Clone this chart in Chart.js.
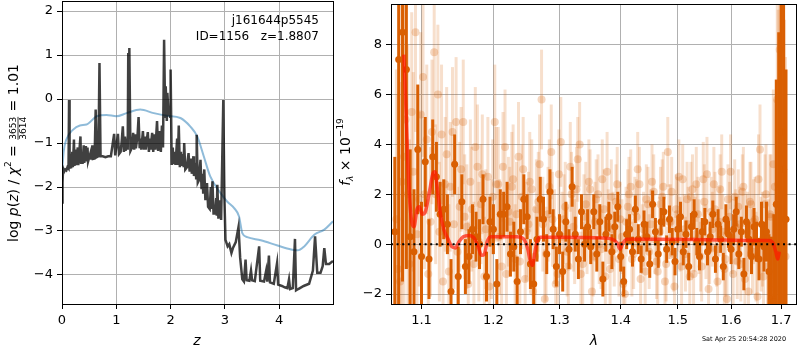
<!DOCTYPE html>
<html>
<head>
<meta charset="utf-8">
<script src="https://cdn.jsdelivr.net/npm/chart.js@4.4.0/dist/chart.umd.min.js"></script>
<style>
  html, body { margin: 0; padding: 0; background: #fff; }
  #wrap { position: relative; width: 800px; height: 350px; overflow: hidden; }
  #pz { position: absolute; left: 0; top: 0; }
  #sp { position: absolute; left: 335px; top: 0; }
</style>
</head>
<body>
<div id="wrap">
  <canvas id="pz" width="340" height="350" style="width:340px;height:350px"></canvas>
  <canvas id="sp" width="465" height="350" style="width:465px;height:350px"></canvas>
</div>
<script>
// ---- left panel: log p(z) ----
const zTicks = [0, 1, 2, 3, 4];
const logpTicks = [-4, -3, -2, -1, 0, 1, 2];

const zGrid = [
  0.00,0.01,0.02,0.04,0.06,0.08,0.10,0.12,0.13,0.14,
  0.17,0.19,0.20,0.22,0.23,0.25,0.26,0.29,0.30,0.34,
  0.35,0.38,0.40,0.41,0.44,0.45,0.47,0.48,0.53,0.54,
  0.56,0.57,0.60,0.62,0.64,0.67,0.69,0.71,0.75,0.80,
  0.85,0.90,0.96,0.98,1.03,1.05,1.08,1.10,1.12,1.14,
  1.16,1.17,1.20,1.21,1.22,1.23,1.24,1.26,1.29,1.31,
  1.33,1.35,1.36,1.39,1.41,1.43,1.45,1.46,1.49,1.51,
  1.53,1.54,1.58,1.60,1.62,1.63,1.66,1.68,1.70,1.72,
  1.75,1.77,1.80,1.82,1.84,1.86,1.88,1.90,1.91,1.93,
  1.94,1.96,1.99,2.00,2.02,2.04,2.05,2.08,2.09,2.12,
  2.13,2.15,2.17,2.19,2.20,2.23,2.24,2.25,2.27,2.30,
  2.33,2.35,2.38,2.39,2.42,2.43,2.46,2.47,2.48,2.50,
  2.52,2.55,2.57,2.59,2.60,2.62,2.64,2.67,2.69,2.72,
  2.74,2.75,2.77,2.79,2.82,2.84,2.85,2.86,2.88,2.91,
  2.93,2.97,2.99,3.01,3.05,3.08,3.12,3.15,3.20,3.25,
  3.28,3.32,3.35,3.38,3.40,3.45,3.48,3.50,3.55,3.63,
  3.65,3.72,3.76,3.78,3.81,3.83,3.90,3.96,3.98,4.05,
  4.10,4.15,4.18,4.20,4.25,4.29,4.31,4.35,4.45,4.55,
  4.62,4.66,4.70,4.76,4.80,4.83,4.86,4.92,4.99
];
const logpZ = [
  -2.35,-1.9,-1.58,-1.65,-1.60,-1.62,-1.55,-1.58,-0.02,-1.56,
  -1.55,-1.2,-1.55,-0.92,-1.52,-1.15,-1.5,-1.1,-1.5,-0.85,
  -1.45,-1.45,-1.05,-1.45,-1.07,-1.42,-1.1,-1.42,-1.2,-1.38,
  -1.05,-1.36,-1.35,-0.24,-1.32,-1.3,0.82,-1.3,-1.3,-1.32,
  -1.3,-1.3,-0.79,-1.28,-0.79,-1.25,-1.2,-0.95,-0.62,-1.2,
  -0.85,-1.18,-0.9,-1.15,1.05,-0.8,1.16,-1.18,-1.1,-0.77,
  -1.15,-0.8,-1.12,-0.85,-0.41,-1.12,-0.9,-1.15,-0.73,-1.15,
  -0.85,-1.15,-0.75,-1.2,-0.9,-1.15,-0.77,-1.2,-0.8,-1.15,
  -0.5,-1.18,-0.73,-1.2,-0.6,-1.1,1.35,-0.4,0.29,-0.5,
  0.14,-0.3,-0.4,0.67,-1.5,-1.1,-1.48,-1.2,-1.5,-0.9,
  -1.5,-0.6,-1.55,-1.2,-1.52,-1.25,-1.55,-1.0,-1.6,-1.55,
  -1.23,-1.65,-1.35,-1.7,-1.3,-1.75,-1.45,-1.8,-0.81,-1.9,
  -1.85,-1.38,-2.05,-1.7,-2.15,-1.6,-2.3,-1.91,-2.45,-2.5,
  -2.0,-2.5,-1.87,-2.6,-2.6,-2.25,-2.65,-1.95,-2.72,-2.3,
  -2.75,-0.02,-2.2,-3.2,-3.35,-3.3,-3.5,-3.38,-3.25,-2.91,
  -3.6,-4.1,-4.15,-3.65,-4.12,-4.13,-3.9,-4.12,-4.14,-3.35,
  -4.13,-4.15,-3.9,-4.15,-3.56,-4.17,-4.2,-3.73,-4.22,-4.25,
  -4.28,-4.3,-4.1,-4.32,-4.3,-3.18,-4.35,-4.32,-4.25,-4.2,
  -3.9,-3.12,-3.95,-3.95,-3.8,-3.39,-3.75,-3.75,-3.68
];

// smooth template-fit curve (blue)
const zTempl = [0.0,0.03,0.08,0.2,0.33,0.45,0.64,0.82,1.0,1.19,1.44,1.69,1.93,2.18,2.36,2.49,
  2.61,2.73,2.92,3.04,3.17,3.26,3.32,3.41,3.66,3.97,4.22,4.34,4.46,4.65,4.83,4.99];
const logpTempl = [-1.7,-1.2,-0.92,-0.7,-0.6,-0.58,-0.39,-0.36,-0.39,-0.32,-0.24,-0.32,-0.38,-0.43,-0.62,-0.85,
  -1.3,-1.76,-2.14,-2.33,-2.48,-2.67,-3.05,-3.14,-3.21,-3.33,-3.42,-3.44,-3.35,-3.08,-2.97,-2.78];

// ---- right panel: spectrum ----
const waveTicks = [1.1, 1.2, 1.3, 1.4, 1.5, 1.6, 1.7];
const fluxTicks = [-2, 0, 2, 4, 6, 8];

// beam A (dark orange)
const waveA = [
  1.065,1.070,1.075,1.080,1.085,1.090,1.095,1.100,1.105,1.110,
  1.115,1.120,1.125,1.130,1.135,1.140,1.145,1.150,1.155,1.160,
  1.165,1.170,1.175,1.180,1.185,1.190,1.195,1.200,1.205,1.210,
  1.215,1.220,1.225,1.230,1.235,1.240,1.245,1.250,1.255,1.260,
  1.265,1.270,1.275,1.280,1.285,1.290,1.295,1.300,1.305,1.310,
  1.315,1.320,1.325,1.330,1.335,1.340,1.345,1.350,1.355,1.360,
  1.365,1.370,1.375,1.380,1.385,1.390,1.395,1.400,1.405,1.410,
  1.415,1.420,1.425,1.430,1.435,1.440,1.445,1.450,1.455,1.460,
  1.465,1.470,1.475,1.480,1.485,1.490,1.495,1.500,1.505,1.510,
  1.515,1.520,1.525,1.530,1.535,1.540,1.545,1.550,1.555,1.560,
  1.565,1.570,1.575,1.580,1.585,1.590,1.595,1.600,1.605,1.610,
  1.615,1.620,1.625,1.630,1.635,1.640,1.645,1.650,1.655,1.660,
  1.665,1.670,1.675,1.680,1.685,1.690,1.695,1.700,1.705,1.710
];
const fluxA = [
  0.5,7.4,8.5,7.0,0.3,-0.3,3.8,-0.5,3.3,-0.6,
  3.5,2.7,1.2,1.4,0.8,-1.9,3.2,-1.3,1.7,-0.9,
  -0.5,0.6,0.3,0.0,1.8,-1.3,0.9,0.6,-1.6,1.2,
  1.2,1.5,-0.4,-0.1,-1.5,0.5,1.8,1.1,-0.8,-1.6,
  0.2,1.8,1.0,-0.4,2.1,0.6,-0.9,0.4,-1.1,0.9,
  -0.2,2.3,0.4,-0.6,1.3,0.0,0.7,-0.1,1.3,-0.4,
  0.9,-1.4,0.4,1.1,-0.3,0.7,1.5,-0.5,-1.5,0.4,
  0.6,-0.3,1.4,0.2,-0.6,0.8,0.3,-0.8,1.6,0.5,
  -0.4,0.9,1.3,-0.2,1.0,0.1,-0.7,0.6,1.1,-0.3,
  0.4,-0.9,0.7,1.2,0.1,-0.5,0.5,0.9,-0.3,0.3,
  1.2,-0.6,0.8,0.2,-0.9,1.0,0.4,-0.2,0.6,1.3,
  -0.4,0.5,-1.2,0.9,0.2,-0.5,0.7,0.1,-0.6,0.8,
  -0.1,0.5,-1.1,-2.2,-2.3,1.6,-0.5,4.5,3.0,1.0
];
const errA = [
  3,12,10,8,3.5,2.5,2.6,2.2,1.8,1.6,
  1.5,1.4,1.3,1.2,1.2,1.3,1.2,1.2,1.1,1.1,
  1.1,1.0,1.0,1.0,1.0,1.0,1.0,1.0,1.0,1.0,
  0.9,1.0,0.9,1.0,1.0,0.9,1.0,0.9,1.0,1.0,
  0.9,0.9,0.9,0.8,0.9,0.8,0.8,0.8,0.8,0.8,
  0.8,0.8,0.7,0.8,0.7,0.7,0.7,0.7,0.7,0.7,
  0.7,0.7,0.7,0.6,0.7,0.6,0.6,0.6,0.6,0.6,
  0.6,0.6,0.55,0.6,0.55,0.55,0.6,0.55,0.55,0.55,
  0.55,0.55,0.6,0.55,0.55,0.55,0.55,0.55,0.6,0.55,
  0.55,0.55,0.55,0.6,0.55,0.55,0.55,0.55,0.55,0.6,
  0.55,0.55,0.6,0.55,0.55,0.6,0.55,0.6,0.6,0.6,
  0.6,0.6,0.65,0.65,0.7,0.7,0.75,0.8,0.85,0.9,
  1.0,1.2,1.5,2.5,3.5,5,9,8,12,6
];

// beam B (faint orange)
const waveB = [
  1.067,1.072,1.077,1.082,1.087,1.092,1.097,1.102,1.107,1.112,
  1.117,1.122,1.127,1.132,1.137,1.142,1.147,1.152,1.157,1.162,
  1.167,1.172,1.177,1.182,1.187,1.192,1.197,1.202,1.207,1.212,
  1.217,1.222,1.227,1.232,1.237,1.242,1.247,1.252,1.257,1.262,
  1.267,1.272,1.277,1.282,1.287,1.292,1.297,1.302,1.307,1.312,
  1.317,1.322,1.327,1.332,1.337,1.342,1.347,1.352,1.357,1.362,
  1.367,1.372,1.377,1.382,1.387,1.392,1.397,1.402,1.407,1.412,
  1.417,1.422,1.427,1.432,1.437,1.442,1.447,1.452,1.457,1.462,
  1.467,1.472,1.477,1.482,1.487,1.492,1.497,1.502,1.507,1.512,
  1.517,1.522,1.527,1.532,1.537,1.542,1.547,1.552,1.557,1.562,
  1.567,1.572,1.577,1.582,1.587,1.592,1.597,1.602,1.607,1.612,
  1.617,1.622,1.627,1.632,1.637,1.642,1.647,1.652,1.657,1.662,
  1.667,1.672,1.677,1.682,1.687,1.692,1.697,1.702,1.707
];
const fluxB = [
  1.0,-1.5,3.5,2.0,5.3,8.5,1.8,6.7,4.2,0.9,
  7.7,6.0,4.4,2.4,-1.1,4.5,4.9,1.5,4.9,0.7,
  2.5,-0.8,3.1,1.6,-1.3,2.7,0.2,4.9,2.4,-0.9,
  3.9,1.3,2.3,-0.6,3.5,1.9,-1.4,0.8,2.2,-0.5,
  1.7,5.8,-2.2,1.2,3.7,0.3,-1.2,4.1,1.0,-0.3,
  3.1,0.7,2.2,4.0,-0.8,1.6,2.5,-1.9,0.9,2.0,
  -0.2,1.4,2.9,-1.0,0.6,1.7,-0.6,0.3,-2.0,1.5,
  2.3,-0.4,1.1,2.4,0.2,-1.1,1.6,0.8,2.1,-0.7,
  0.5,1.9,-1.5,3.7,0.9,-0.4,1.4,2.7,-0.9,0.6,
  1.8,-1.3,2.2,0.4,1.2,-0.5,2.6,0.1,-1.8,1.3,
  2.4,-0.2,0.9,2.9,-1.0,-2.2,1.1,0.3,1.9,-0.7,
  0.8,2.1,-1.4,0.5,1.7,-0.3,1.0,-2.1,3.8,0.2,
  1.6,-0.9,1.2,-1.6,2.3,5.8,7.8,3.6,1.0
];
const errB = [
  6,8,9,6,4,4,3.5,3.2,3,3,
  3,2.8,2.8,2.7,2.7,2.6,2.6,2.6,2.5,2.5,
  2.5,2.5,2.5,2.4,2.4,2.4,2.4,2.3,2.3,2.3,
  2.3,2.2,2.2,2.2,2.2,2.1,2.1,2.1,2.0,2.0,
  2.0,2.0,2.0,1.9,1.9,1.9,1.9,1.8,1.8,1.8,
  1.8,1.8,1.7,1.7,1.7,1.7,1.7,1.6,1.6,1.6,
  1.6,1.6,1.6,1.5,1.5,1.5,1.5,1.5,1.5,1.5,
  1.5,1.4,1.5,1.5,1.4,1.5,1.5,1.4,1.5,1.5,
  1.4,1.5,1.5,1.4,1.5,1.5,1.4,1.5,1.5,1.4,
  1.5,1.5,1.4,1.5,1.5,1.4,1.5,1.5,1.5,1.4,
  1.5,1.5,1.4,1.5,1.5,1.5,1.4,1.5,1.5,1.5,
  1.5,1.5,1.6,1.6,1.6,1.7,1.7,1.8,1.8,1.9,
  2.0,2.2,2.4,2.8,3.5,6,9,10,8
];

// beam C (faint orange, second orient)
const waveC = [
  1.069,1.074,1.079,1.084,1.089,1.094,1.099,1.104,1.109,1.114,
  1.119,1.124,1.129,1.134,1.139,1.144,1.149,1.154,1.159,1.164,
  1.169,1.174,1.179,1.184,1.189,1.194,1.199,1.204,1.209,1.214,
  1.219,1.224,1.229,1.234,1.239,1.244,1.249,1.254,1.259,1.264,
  1.269,1.274,1.279,1.284,1.289,1.294,1.299,1.304,1.309,1.314,
  1.319,1.324,1.329,1.334,1.339,1.344,1.349,1.354,1.359,1.364,
  1.369,1.374,1.379,1.384,1.389,1.394,1.399,1.404,1.409,1.414,
  1.419,1.424,1.429,1.434,1.439,1.444,1.449,1.454,1.459,1.464,
  1.469,1.474,1.479,1.484,1.489,1.494,1.499,1.504,1.509,1.514,
  1.519,1.524,1.529,1.534,1.539,1.544,1.549,1.554,1.559,1.564,
  1.569,1.574,1.579,1.584,1.589,1.594,1.599,1.604,1.609,1.614,
  1.619,1.624,1.629,1.634,1.639,1.644,1.649,1.654,1.659,1.664,
  1.669,1.674,1.679,1.684,1.689,1.694,1.699,1.704,1.709
];
const fluxC = [
  -1.0,2.5,5.0,-0.8,2.9,0.4,5.2,2.0,-1.2,4.5,
  2.0,0.5,-1.5,3.6,2.3,0.8,-0.3,3.0,1.1,-1.6,
  1.4,3.9,0.1,2.8,0.6,-1.7,1.9,2.4,0.3,3.1,
  -1.2,0.9,2.6,1.2,-0.7,3.0,0.5,2.5,-1.9,1.4,
  3.2,0.8,-0.4,2.3,1.0,-1.6,2.8,0.3,1.5,-0.9,
  2.0,0.1,3.4,-1.2,1.1,0.4,2.2,-0.5,1.8,0.0,
  2.6,-1.3,0.7,1.9,-0.2,2.4,1.0,-1.6,0.9,2.0,
  -0.6,1.3,3.0,-1.4,0.6,1.8,-0.3,2.5,0.2,-1.1,
  1.6,2.3,-0.8,0.9,2.1,-1.7,1.2,0.4,2.6,-0.4,
  0.8,1.9,-1.2,2.4,0.3,-0.9,1.7,2.8,-0.2,0.6,
  1.4,-1.5,2.2,0.5,-0.6,1.8,2.9,-1.2,0.7,1.5,
  -0.8,2.3,0.4,-1.9,1.6,0.9,-0.5,2.6,0.0,-1.3,
  2.0,-0.4,1.1,3.2,-1.8,2.4,6.5,2.0,-0.5
];
const errC = [
  7,9,6,5,4,3.6,3.3,3,3,2.9,
  2.8,2.8,2.7,2.7,2.6,2.6,2.6,2.5,2.5,2.5,
  2.5,2.4,2.4,2.4,2.4,2.3,2.3,2.3,2.3,2.2,
  2.2,2.2,2.2,2.1,2.1,2.1,2.0,2.0,2.0,2.0,
  2.0,1.9,1.9,1.9,1.9,1.8,1.8,1.8,1.8,1.8,
  1.7,1.7,1.7,1.7,1.7,1.6,1.6,1.6,1.6,1.6,
  1.6,1.5,1.5,1.5,1.5,1.5,1.5,1.5,1.4,1.5,
  1.5,1.4,1.5,1.5,1.5,1.4,1.5,1.5,1.4,1.5,
  1.5,1.4,1.5,1.5,1.4,1.5,1.5,1.5,1.4,1.5,
  1.5,1.4,1.5,1.5,1.5,1.4,1.5,1.5,1.4,1.5,
  1.5,1.5,1.4,1.5,1.5,1.4,1.5,1.5,1.5,1.5,
  1.5,1.6,1.6,1.6,1.7,1.7,1.8,1.8,1.9,1.9,
  2.0,2.2,2.5,3,4,7,9,10,8
];

// best-fit model (red)
const waveModel = [1.0767,1.080,1.083,1.087,1.090,1.094,1.097,1.101,1.105,1.110,
  1.115,1.118,1.121,1.125,1.130,1.136,1.141,1.146,1.151,1.157,
  1.165,1.172,1.178,1.183,1.187,1.191,1.196,1.210,1.235,1.245,
  1.251,1.255,1.258,1.262,1.266,1.270,1.300,1.370,1.385,1.394,
  1.399,1.404,1.410,1.450,1.550,1.650,1.675,1.683,1.689,1.693,1.696];
const fluxModel = [7.6,5.0,2.5,0.9,0.7,1.4,1.5,1.2,1.3,2.0,
  2.8,2.9,2.3,1.3,0.6,0.2,-0.1,-0.15,0.1,0.3,
  0.35,0.25,-0.1,-0.45,-0.4,0.1,0.3,0.3,0.3,0.2,
  -0.2,-0.7,-0.85,-0.3,0.2,0.28,0.28,0.25,0.2,0.05,
  -0.2,0.05,0.2,0.2,0.18,0.15,0.15,0.05,-0.3,-0.6,-0.3];

const waveMin = 1.0601, waveMax = 1.7308;

Chart.defaults.font.family = '"DejaVu Sans", sans-serif';
Chart.defaults.font.size = 13;
Chart.defaults.color = '#000';

const FONT = '"DejaVu Sans", sans-serif';
const minus = v => String(v).replace('-', '\u2212');
const pts = (xs, ys) => xs.map((x, i) => ({ x: x, y: ys[i] }));

// error bars drawn under each dataset's markers
const errorBars = {
  id: 'errorBars',
  beforeDatasetDraw(chart, args) {
    const ds = chart.data.datasets[args.index];
    if (!ds.errors) return;
    const { ctx, chartArea: a, scales: { x, y } } = chart;
    ctx.save();
    ctx.beginPath();
    ctx.rect(a.left, a.top, a.right - a.left, a.bottom - a.top);
    ctx.clip();
    ctx.strokeStyle = ds.errorColor;
    ctx.lineWidth = 3;
    ds.data.forEach((p, i) => {
      const px = x.getPixelForValue(p.x);
      ctx.beginPath();
      ctx.moveTo(px, y.getPixelForValue(p.y - ds.errors[i]));
      ctx.lineTo(px, y.getPixelForValue(p.y + ds.errors[i]));
      ctx.stroke();
    });
    ctx.restore();
  }
};

// black box round the axes
const frame = {
  id: 'frame',
  afterDatasetsDraw(chart) {
    const { ctx, chartArea: a } = chart;
    ctx.save();
    ctx.strokeStyle = '#000';
    ctx.lineWidth = 1;
    ctx.strokeRect(Math.round(a.left) + 0.5, Math.round(a.top) + 0.5,
      Math.round(a.right - a.left), Math.round(a.bottom - a.top));
    ctx.restore();
  }
};

// draw a list of text runs along a baseline, centred on 0
function drawRuns(ctx, runs) {
  let w = 0;
  runs.forEach(r => {
    ctx.font = r.f;
    r.w = r.frac
      ? Math.max(ctx.measureText(r.frac[0]).width, ctx.measureText(r.frac[1]).width) + 2
      : ctx.measureText(r.t).width;
    w += r.w;
  });
  let x = -w / 2;
  runs.forEach(r => {
    ctx.font = r.f;
    if (r.frac) {
      ctx.textAlign = 'center';
      ctx.fillText(r.frac[0], x + r.w / 2, -2);
      ctx.fillText(r.frac[1], x + r.w / 2, 8);
      ctx.fillRect(x + 1, -0.4, r.w - 2, 0.8);
      ctx.textAlign = 'left';
    } else {
      ctx.fillText(r.t, x, r.dy || 0);
    }
    x += r.w;
  });
}

function gridOpts() {
  return { color: '#b0b0b0', lineWidth: 1, drawTicks: true, tickLength: 5, tickColor: '#000', tickWidth: 1 };
}

const pzText = {
  id: 'pzText',
  afterDraw(chart) {
    const ctx = chart.ctx;
    ctx.save();
    ctx.fillStyle = '#000';
    ctx.textBaseline = 'alphabetic';
    ctx.textAlign = 'right';
    ctx.font = '12px ' + FONT;
    ctx.fillText('j161644p5545', 319, 24);
    ctx.fillText('ID=1156   z=1.8807', 319, 40);
    ctx.textAlign = 'center';
    ctx.font = 'italic 14px ' + FONT;
    ctx.fillText('z', 197, 345);
    ctx.translate(13, 153);
    ctx.rotate(-Math.PI / 2);
    ctx.translate(0, 5);
    ctx.textAlign = 'left';
    const R = '14px ' + FONT, I = 'italic 14px ' + FONT, S = '9px ' + FONT;
    drawRuns(ctx, [
      { f: R, t: 'log ' }, { f: I, t: 'p' }, { f: R, t: '(' }, { f: I, t: 'z' }, { f: R, t: ') / ' },
      { f: I, t: '\u03c7' }, { f: S, t: '2', dy: -7 }, { f: R, t: ' = ' },
      { f: S, frac: ['3653', '3614'] }, { f: R, t: ' = 1.01' }
    ]);
    ctx.restore();
  }
};

const spText = {
  id: 'spText',
  afterDraw(chart) {
    const ctx = chart.ctx;
    ctx.save();
    ctx.fillStyle = '#000';
    ctx.textBaseline = 'alphabetic';
    ctx.textAlign = 'center';
    ctx.font = 'italic 14px ' + FONT;
    ctx.fillText('\u03bb', 259, 345);
    ctx.font = '6.5px ' + FONT;
    ctx.fillText('Sat Apr 25 20:54:28 2020', 409, 341);
    ctx.translate(10, 152);
    ctx.rotate(-Math.PI / 2);
    ctx.translate(0, 5);
    ctx.textAlign = 'left';
    const R = '14px ' + FONT, I = 'italic 14px ' + FONT, S = '9px ' + FONT, SI = 'italic 9px ' + FONT;
    drawRuns(ctx, [
      { f: I, t: 'f' }, { f: SI, t: '\u03bb', dy: 3 }, { f: R, t: ' \u00d7 10' }, { f: S, t: '\u221219', dy: -7 }
    ]);
    ctx.restore();
  }
};

new Chart(document.getElementById('pz'), {
  type: 'line',
  data: {
    datasets: [
      { data: pts(zGrid, logpZ), borderColor: 'rgba(0,0,0,0.75)', borderWidth: 2.5, pointRadius: 0, tension: 0, order: 0 },
      { data: pts(zTempl, logpTempl), borderColor: 'rgba(31,119,180,0.5)', borderWidth: 2, pointRadius: 0,
        cubicInterpolationMode: 'monotone', order: 1 }
    ]
  },
  options: {
    responsive: false, animation: false, events: [],
    layout: { padding: { top: 1, right: 7, left: 0, bottom: 0 } },
    plugins: { legend: { display: false }, tooltip: { enabled: false } },
    scales: {
      x: {
        type: 'linear', min: 0, max: 4.99,
        afterBuildTicks: s => { s.ticks = zTicks.map(v => ({ value: v })); },
        afterFit: s => { s.height = 46; s.paddingLeft = 0; s.paddingRight = 0; },
        grid: gridOpts(), border: { display: false },
        ticks: { padding: 4, maxRotation: 0, callback: v => minus(v) }
      },
      y: {
        type: 'linear', min: -4.66, max: 2.23,
        afterBuildTicks: s => { s.ticks = logpTicks.map(v => ({ value: v })); },
        afterFit: s => { s.width = 62; s.paddingTop = 0; s.paddingBottom = 0; },
        grid: gridOpts(), border: { display: false },
        ticks: { padding: 4, callback: v => minus(v) }
      }
    }
  },
  plugins: [frame, pzText]
});

const faintBar = 'rgba(217,95,2,0.2)', faintDot = 'rgba(217,95,2,0.25)';

new Chart(document.getElementById('sp'), {
  type: 'line',
  data: {
    datasets: [
      { data: [{ x: waveMin, y: 0 }, { x: waveMax, y: 0 }], borderColor: '#000', borderWidth: 2,
        borderDash: [2, 3.6], pointRadius: 0, order: 0 },
      { data: pts(waveModel, fluxModel), borderColor: 'rgba(255,20,0,0.68)', borderWidth: 3.5, pointRadius: 0,
        cubicInterpolationMode: 'monotone', order: 1 },
      { data: pts(waveA, fluxA), errors: errA, errorColor: '#d95f02', showLine: false,
        pointRadius: 3.5, pointBackgroundColor: '#d95f02', pointBorderWidth: 0, order: 2 },
      { data: pts(waveB, fluxB), errors: errB, errorColor: faintBar, showLine: false,
        pointRadius: 4, pointBackgroundColor: faintDot, pointBorderWidth: 0, order: 3 },
      { data: pts(waveC, fluxC), errors: errC, errorColor: faintBar, showLine: false,
        pointRadius: 4, pointBackgroundColor: faintDot, pointBorderWidth: 0, order: 4 }
    ]
  },
  options: {
    responsive: false, animation: false, events: [],
    layout: { padding: { top: 1, right: 1, left: 0, bottom: 0 } },
    plugins: { legend: { display: false }, tooltip: { enabled: false } },
    scales: {
      x: {
        type: 'logarithmic', min: waveMin, max: waveMax,
        afterBuildTicks: s => { s.ticks = waveTicks.map(v => ({ value: v })); },
        afterFit: s => { s.height = 46; s.paddingLeft = 0; s.paddingRight = 0; },
        grid: gridOpts(), border: { display: false },
        ticks: { padding: 4, maxRotation: 0, autoSkip: false, callback: v => Number(v).toFixed(1) }
      },
      y: {
        type: 'linear', min: -2.4, max: 9.63,
        afterBuildTicks: s => { s.ticks = fluxTicks.map(v => ({ value: v })); },
        afterFit: s => { s.width = 56; s.paddingTop = 0; s.paddingBottom = 0; },
        grid: gridOpts(), border: { display: false },
        ticks: { padding: 4, callback: v => minus(v) }
      }
    }
  },
  plugins: [errorBars, frame, spText]
});
</script>
</body>
</html>
